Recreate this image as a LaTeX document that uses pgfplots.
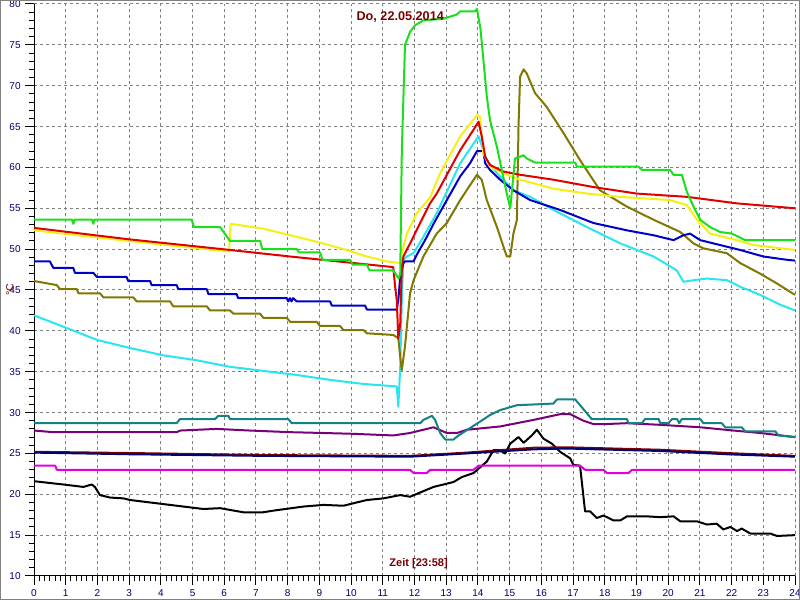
\documentclass[border=0pt]{standalone}
\usepackage{fontspec}
\setmainfont{Liberation Sans}
\usepackage{pgfplots}
\pgfplotsset{compat=1.18}

\definecolor{cgreen}{RGB}{25,225,25}
\definecolor{cred}{RGB}{225,0,0}
\definecolor{cyellow}{RGB}{245,240,20}
\definecolor{cblue}{RGB}{0,0,200}
\definecolor{colive}{RGB}{128,120,0}
\definecolor{ccyan}{RGB}{40,230,240}
\definecolor{cteal}{RGB}{20,130,130}
\definecolor{cpurple}{RGB}{120,0,120}
\definecolor{cnavy}{RGB}{0,0,110}
\definecolor{cdred}{RGB}{128,0,0}
\definecolor{cmag}{RGB}{225,0,225}
\definecolor{dkgreen}{RGB}{0,120,0}
\definecolor{tickblue}{RGB}{0,0,110}
\definecolor{txtred}{RGB}{120,0,0}

\begin{document}
\begin{tikzpicture}
\begin{axis}[
  scale only axis,
  width=570.75pt, height=429pt,
  xmin=0, xmax=24, ymin=10, ymax=80,
  axis x line*=bottom, axis y line*=left,
  xtick={0,...,24}, ytick={10,15,...,80},
  minor x tick num=5, minor y tick num=4,
  tick align=outside,
  major tick length=6.5pt, minor tick length=3.5pt,
  grid=major,
  major grid style={gray, line width=0.75pt, dash pattern=on 2.25pt off 2.25pt},
  tick style={black, line width=0.75pt},
  axis line style={black, line width=0.75pt},
  ticklabel style={font=\fontsize{7.5}{9}\selectfont, text=tickblue},
  /pgf/number format/assume math mode=true,
  ylabel={°C},
  ylabel style={font=\fontsize{8}{9}\selectfont, text=txtred,
    at={(axis description cs:-0.0315,0.5)}, anchor=center},
  every axis plot/.append style={line width=1.5pt, line join=round},
]

% black
\addplot[black] coordinates {
(0,21.6) (0.92,21.2) (1.56,20.9) (1.82,21.2) (1.92,20.9) (2.08,19.9) (2.4,19.6)
(2.82,19.5) (3.03,19.3) (3.87,18.9) (4.71,18.5) (5.34,18.2) (5.87,18.3) (6.6,17.8)
(7.23,17.8) (7.55,18.0) (8.5,18.5) (9.13,18.7) (9.76,18.6) (10.07,18.9) (10.5,19.3)
(11.02,19.5) (11.55,19.9) (11.86,19.7) (12.6,20.9) (13.23,21.5) (13.49,22.1)
(13.86,22.6) (14.28,24.0) (14.49,25.4) (14.7,25.4) (14.86,25.0) (15.02,26.2)
(15.28,27.0) (15.44,26.3) (15.7,27.2) (15.86,27.9) (16.07,26.8) (16.33,26.2)
(16.59,25.2) (16.91,24.4) (17.01,23.6) (17.22,23.5) (17.38,17.9) (17.54,17.9)
(17.75,17.1) (17.96,17.4) (18.28,16.8) (18.49,16.8) (18.7,17.3) (19.33,17.3)
(19.75,17.2) (20.17,17.3) (20.38,16.7) (20.9,16.7) (21.22,16.3) (21.53,16.4)
(21.74,15.7) (21.96,16.0) (22.17,15.5) (22.32,15.8) (22.59,15.2) (23.22,15.2)
(23.43,14.9) (24,15.0)
};

% magenta
\addplot[cmag] coordinates {
(0,23.5) (0.67,23.5) (0.72,23.0) (11.86,23.0) (11.97,22.6) (12.39,22.6) (12.49,23.0)
(13.86,23.0) (14.02,23.5) (17.22,23.5) (17.38,23.0) (17.96,23.0) (18.07,22.6)
(18.75,22.6) (18.86,23.0) (24,23.0)
};

% dark red
\addplot[cdred] coordinates {
(0,25.2) (3.03,25.05) (7.23,24.8) (11.86,24.7) (13.65,25.1) (15.75,25.7) (16.8,25.75)
(19.75,25.45) (21.85,25.05) (24,24.7)
};

% navy
\addplot[cnavy] coordinates {
(0,25.1) (3.03,24.9) (7.23,24.7) (11.86,24.6) (13.65,25.0) (15.75,25.5) (16.8,25.6)
(19.75,25.3) (21.85,24.9) (24,24.6)
};

% purple
\addplot[cpurple] coordinates {
(0,27.8) (0.61,27.6) (4.5,27.6) (4.61,27.8) (5.76,28.0) (6.81,27.8) (8.08,27.6)
(9.13,27.5) (10.07,27.4) (11.33,27.2) (11.86,27.5) (12.6,28.2) (13.02,27.5)
(13.34,27.5) (13.65,27.9) (14.7,28.3) (15.75,29.1) (16.59,29.8) (16.91,29.8)
(17.33,29.0) (17.64,28.6) (18.07,28.6) (18.7,28.7) (19.75,28.5) (21.01,28.2)
(22.06,27.8) (22.9,27.5) (24,27.0)
};

% teal
\addplot[cteal] coordinates {
(0,28.7) (4.5,28.7) (4.6,29.2) (5.71,29.2) (5.81,29.6) (6.13,29.6) (6.18,29.2)
(8.02,29.2) (8.13,28.7) (12.18,28.7) (12.28,29.1) (12.55,29.6) (12.65,29.1)
(12.81,27.5) (12.97,26.7) (13.23,26.7) (13.39,27.2) (13.75,28.1) (14.07,28.9)
(14.38,29.7) (14.7,30.3) (15.23,30.9) (16.38,31.1) (16.49,31.6) (17.07,31.6)
(17.44,29.9) (17.59,29.2) (18.7,29.2) (18.75,28.7) (19.17,28.7) (19.27,29.2)
(19.7,29.2) (19.75,28.7) (20.01,28.7) (20.12,29.2) (20.28,29.2) (20.35,28.7)
(20.43,29.2) (21.01,29.2) (21.11,28.7) (21.69,28.7) (21.8,28.2) (22.32,28.2)
(22.43,27.7) (23.38,27.7) (23.48,27.2) (24,27.0)
};

% cyan
\addplot[ccyan] coordinates {
(0,41.9) (0.93,40.5) (1.98,38.9) (3.03,37.9) (4.08,37.0) (5.13,36.4) (6.18,35.6)
(7.23,35.1) (8.29,34.6) (9.34,34.0) (10.39,33.5) (11.44,33.2) (11.49,30.7)
(11.55,35.6) (11.6,43.8) (11.65,48.7) (11.76,49.1) (11.97,49.5) (12.28,51.5)
(12.7,54.4) (13.44,60.5) (14.02,63.8) (14.17,62.1) (14.28,60.9) (14.6,59.3)
(15.12,57.2) (15.65,56.4) (16.38,54.8) (17.44,52.7) (18.49,50.7) (19.54,49.1)
(20.27,47.4) (20.48,46.0) (20.8,46.2) (21.22,46.4) (21.85,46.2) (22.27,45.4)
(22.9,44.4) (23.53,43.2) (24,42.5)
};

% olive
\addplot[colive] coordinates {
(0,46.1) (0.72,45.6) (0.82,45.1) (1.35,45.1) (1.4,44.6) (2.08,44.6) (2.19,44.1)
(3.13,44.1) (3.24,43.6) (4.29,43.6) (4.39,43.0) (5.45,43.0) (5.55,42.5) (6.18,42.5)
(6.29,42.1) (7.13,42.1) (7.23,41.6) (7.97,41.6) (8.08,41.1) (8.92,41.1) (9.02,40.6)
(9.65,40.6) (9.76,40.1) (10.39,40.1) (10.5,39.7) (11.33,39.5) (11.49,39.1)
(11.55,36.8) (11.6,35.2) (11.7,38.1) (11.86,44.6) (11.97,46.2) (12.28,49.1)
(12.7,51.9) (13.02,53.2) (13.44,56.0) (13.97,59.1) (14.12,58.5) (14.28,56.0)
(14.6,52.7) (14.91,49.1) (15.02,49.1) (15.12,51.9) (15.23,53.6) (15.28,65.0)
(15.33,71.1) (15.44,72.0) (15.54,71.5) (15.8,69.1) (16.17,67.4) (16.7,64.2)
(17.22,60.9) (17.85,57.2) (18.7,55.2) (19.54,53.6) (20.38,52.1) (20.8,50.7)
(21.11,50.1) (21.85,49.5) (22.27,48.3) (22.9,47.0) (23.43,45.8) (24,44.4)
};

% blue
\addplot[cblue] coordinates {
(0,48.5) (0.5,48.5) (0.61,47.7) (1.24,47.7) (1.29,47.1) (1.87,47.1) (1.98,46.6)
(2.92,46.6) (2.97,46.1) (3.66,46.1) (3.71,45.6) (4.5,45.6) (4.55,45.1) (5.45,45.1)
(5.5,44.5) (6.39,44.5) (6.44,44.0) (7.97,44.0) (8.02,43.6) (8.07,44.0) (8.12,43.6)
(8.17,44.0) (8.29,43.6) (9.34,43.6) (9.39,43.1) (10.44,43.1) (10.5,42.6)
(11.44,42.6) (11.49,43.8) (11.55,46.6) (11.65,48.3) (11.7,48.5) (11.97,48.5)
(12.07,49.3) (12.39,51.5) (12.6,53.1) (13.02,56.0) (13.44,58.9) (13.75,60.5)
(13.97,62.0) (14.17,62.0) (14.23,60.5) (14.38,59.7) (14.7,58.5) (15.12,57.2)
(15.65,56.0) (16.59,54.8) (17.64,53.2) (18.7,52.3) (19.54,51.7) (20.17,51.1)
(20.48,51.7) (20.69,51.9) (21.01,51.1) (21.64,50.5) (22.27,49.9) (23.0,49.1)
(23.74,48.7) (24,48.6)
};

% yellow
\addplot[cyellow] coordinates {
(0,52.3) (3,51.0) (6.15,49.7) (6.2,53.1) (7.23,52.5) (8.08,51.7) (8.92,50.9)
(9.86,49.9) (10.5,49.1) (11.13,48.5) (11.55,48.3) (11.6,49.5) (11.76,51.9)
(12.07,54.4) (12.49,56.3) (12.81,59.3) (13.44,63.8) (13.97,66.4) (14.07,66.2)
(14.17,61.7) (14.38,60.1) (14.91,59.1) (15.33,58.5) (16.38,57.4) (17.44,56.8)
(18.49,56.4) (20.06,56.0) (20.59,55.4) (20.91,53.6) (21.32,51.9) (22.17,51.1)
(22.69,50.5) (24,49.9)
};

% red
\addplot[cred] coordinates {
(0,52.6) (3,51.2) (6.18,49.9) (8.07,49.1) (11.33,47.8) (11.39,45.4) (11.44,43.8)
(11.49,39.0) (11.55,40.9) (11.6,47.8) (11.65,49.1) (11.86,50.7) (12.18,53.2)
(12.49,55.6) (12.7,56.8) (13.44,62.1) (13.86,64.6) (14.02,65.6) (14.12,63.8)
(14.23,61.3) (14.38,60.3) (14.8,59.5) (15.33,59.1) (16.38,58.5) (17.64,57.6)
(19.01,56.8) (20.59,56.4) (22.17,55.6) (24,55.0)
};

% green
\addplot[cgreen] coordinates {
(0,53.6) (1.2,53.6) (1.24,53.1) (1.28,53.6) (1.84,53.6) (1.87,53.1) (1.91,53.6)
(4.97,53.6) (5.05,52.7) (5.87,52.7) (6.18,51.0) (7.13,51.0) (7.2,50.0) (8.29,50.0)
(8.35,49.6) (9.02,49.6) (9.1,48.7) (9.97,48.7) (10.05,48.1) (10.5,48.1)
(10.58,47.4) (11.33,47.4) (11.5,46.4) (11.55,47.0) (11.6,62.0) (11.7,75.0)
(11.86,76.6) (12.02,77.4) (12.28,78.0) (12.91,78.2) (13.33,78.7) (13.44,79.1)
(13.91,79.1) (13.97,79.4) (14.08,77.0) (14.28,68.7) (14.38,65.8) (14.6,62.5)
(14.91,56.8) (15.02,55.0) (15.17,61.1) (15.33,61.3) (15.43,61.5) (15.54,61.1)
(15.8,60.6) (17.07,60.6) (17.12,60.1) (19.06,60.1) (19.17,59.7) (20.06,59.7)
(20.17,59.1) (20.43,59.1) (20.59,57.0) (20.8,55.2) (21.01,53.6) (21.32,52.7)
(21.64,52.1) (22.01,51.9) (22.43,51.1) (24,51.1)
};

% current time marker
\addplot[dkgreen, line width=0.75pt, dash pattern=on 4.5pt off 3pt] coordinates {(24,10) (24,80)};

\node[font=\fontsize{9.5}{11}\selectfont\bfseries, text=txtred] at (axis cs:11.55,78.4) {Do, 22.05.2014};
\node[font=\fontsize{8.3}{10}\selectfont\bfseries, text=txtred, anchor=south] at (axis cs:12.13,10.3) {Zeit [23:58]};
\end{axis}
\pgfresetboundingbox
\useasboundingbox ([xshift=-25.5pt,yshift=-18pt]current axis.south west) rectangle ([xshift=3.75pt,yshift=3pt]current axis.north east);
\draw[gray, line width=0.75pt] ([xshift=-25.1pt,yshift=-17.6pt]current axis.south west) rectangle ([xshift=3.35pt,yshift=2.6pt]current axis.north east);
\end{tikzpicture}
\end{document}
